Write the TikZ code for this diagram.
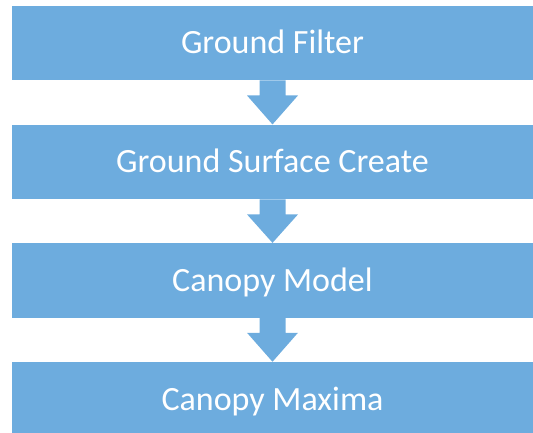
\documentclass[tikz,border=0pt]{standalone}
\usepackage{fontspec}
\setmainfont{Carlito}
\usetikzlibrary{calc,positioning}
\definecolor{boxblue}{HTML}{6DACDE}
\tikzset{
	stage/.style={rectangle, fill=boxblue, minimum width=521pt, minimum height=74.5pt,
		inner sep=0pt, text=white, font=\fontsize{34}{37}\selectfont,
		text height=22pt, text depth=0pt},
}
\def\flowarrow#1#2{\fill[boxblue] ($(#1.south)+(-13,0)$) -- ($(#1.south)+(-13,15)$) -- ($(#1.south)+(-25.5,15)$) -- (#2.north) -- ($(#1.south)+(25.5,15)$) -- ($(#1.south)+(13,15)$) -- ($(#1.south)+(13,0)$) -- cycle;}

\begin{document}
\begin{tikzpicture}[x=1pt, y=-1pt]
		%%%%% START %%%%%
		\useasboundingbox (0, 0) rectangle (533, 433);
		
		\node[stage] (filter) at (272.5, 43) {Ground Filter};
		\node[stage, below=44pt of filter] (surface) {Ground Surface Create};
		\node[stage, below=43.5pt of surface] (canopy) {Canopy Model};
		\node[stage, below=44pt of canopy] (maxima) {Canopy Maxima};
		
		\flowarrow{filter}{surface}
		\flowarrow{surface}{canopy}
		\flowarrow{canopy}{maxima}
		%%%%% END %%%%%
\end{tikzpicture}
\end{document}
